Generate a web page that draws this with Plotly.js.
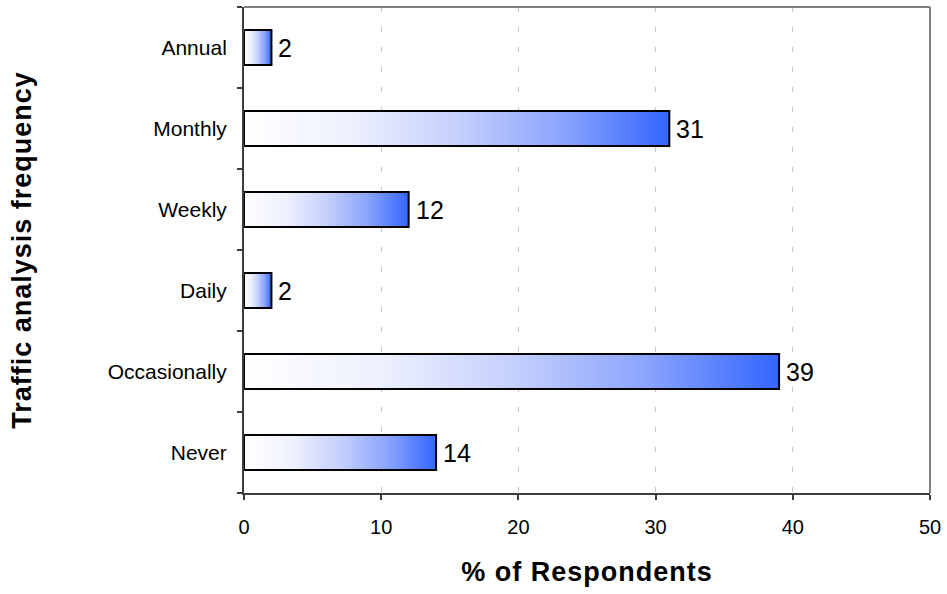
<!DOCTYPE html>
<html>
<head>
<meta charset="utf-8">
<script src="https://cdn.plot.ly/plotly-3.0.1.min.js"></script>
<style>
  html, body { margin: 0; padding: 0; background: #ffffff; }
  #chart { width: 947px; height: 594px; }
  /* slightly open tracking on the axis titles */
  #chart .g-xtitle text, #chart .g-ytitle text { letter-spacing: 1px; }
</style>
</head>
<body>
<div id="chart"></div>
<script>
// Survey: how often respondents analyse their traffic (% of respondents)
const categories = ['Annual', 'Monthly', 'Weekly', 'Daily', 'Occasionally', 'Never'];
const respondents = [2, 31, 12, 2, 39, 14];
const xTickValues = [0, 10, 20, 30, 40, 50];

const FONT = 'Arial, "Liberation Sans", sans-serif';
const AXIS_DARK = '#3c3c3c';
const BAR_HALF = 0.215;               // half the bar thickness, in category units
const GRADIENT = [
  [0.00, '#ffffff'],
  [0.25, '#eef1fe'],
  [0.50, '#c5d0fc'],
  [0.75, '#8ba4fd'],
  [1.00, '#3366ff']
];

// one category slot per row, first row at the top
const slots = categories.map((_, i) => i);

// each bar is a closed outline filled with a left-to-right gradient
const bars = categories.map((name, i) => {
  const v = respondents[i];
  const lo = slots[i] - BAR_HALF, hi = slots[i] + BAR_HALF;
  return {
    type: 'scatter',
    mode: 'lines',
    name: name,
    x: [0, v, v, 0, 0],
    y: [lo, lo, hi, hi, lo],
    fill: 'toself',
    fillgradient: { type: 'horizontal', colorscale: GRADIENT },
    line: { color: '#000000', width: 2 },
    hovertemplate: name + ': %{text}%<extra></extra>',
    text: Array(5).fill(v),
    showlegend: false
  };
});

// value labels to the right of each bar
const valueLabels = categories.map((name, i) => ({
  x: respondents[i],
  y: slots[i],
  xref: 'x',
  yref: 'y',
  text: String(respondents[i]),
  showarrow: false,
  xanchor: 'left',
  yanchor: 'middle',
  xshift: 5,
  font: { family: FONT, size: 25, color: '#000000' }
}));

// boundaries between category rows, used for the y tick marks
const rowEdges = [-0.5].concat(slots.map(s => s + 0.5));

const layout = {
  width: 947,
  height: 594,
  margin: { l: 244, r: 17, t: 7, b: 101 },
  paper_bgcolor: '#ffffff',
  plot_bgcolor: '#ffffff',
  font: { family: FONT, color: '#000000' },
  showlegend: false,
  xaxis: {
    range: [0, 50],
    tickmode: 'array',
    tickvals: xTickValues,
    ticktext: xTickValues.map(String),
    ticks: 'outside',
    ticklen: 5,
    tickwidth: 2,
    tickcolor: AXIS_DARK,
    ticklabelstandoff: 10,
    tickfont: { family: FONT, size: 20, color: '#000000' },
    showline: true,
    linecolor: AXIS_DARK,
    linewidth: 2,
    showgrid: true,
    gridcolor: '#c4c4c4',
    gridwidth: 1,
    griddash: '5px,15px',
    zeroline: false,
    fixedrange: true,
    title: {
      text: '% of Respondents',
      font: { family: FONT, size: 27, weight: 'bold', color: '#000000' },
      standoff: 25
    }
  },
  yaxis: {
    range: [5.5, -0.5],
    tickmode: 'array',
    tickvals: slots,
    ticktext: categories,
    ticks: '',
    ticklabelstandoff: 11,
    tickfont: { family: FONT, size: 21, color: '#000000' },
    minor: {
      tickmode: 'array',
      tickvals: rowEdges,
      ticks: 'outside',
      ticklen: 5,
      tickwidth: 2,
      tickcolor: AXIS_DARK,
      showgrid: false
    },
    showline: true,
    linecolor: AXIS_DARK,
    linewidth: 2,
    showgrid: false,
    zeroline: false,
    fixedrange: true,
    title: {
      text: 'Traffic analysis frequency',
      font: { family: FONT, size: 27, weight: 'bold', color: '#000000' },
      standoff: 68
    }
  },
  annotations: valueLabels,
  shapes: [
    { type: 'line', xref: 'paper', yref: 'paper', x0: 0, x1: 1, y0: 1, y1: 1,
      line: { color: '#808080', width: 2 } },
    { type: 'line', xref: 'paper', yref: 'paper', x0: 1, x1: 1, y0: 0, y1: 1,
      line: { color: '#808080', width: 2 } }
  ]
};

Plotly.newPlot('chart', bars, layout, { displayModeBar: false });
</script>
</body>
</html>
